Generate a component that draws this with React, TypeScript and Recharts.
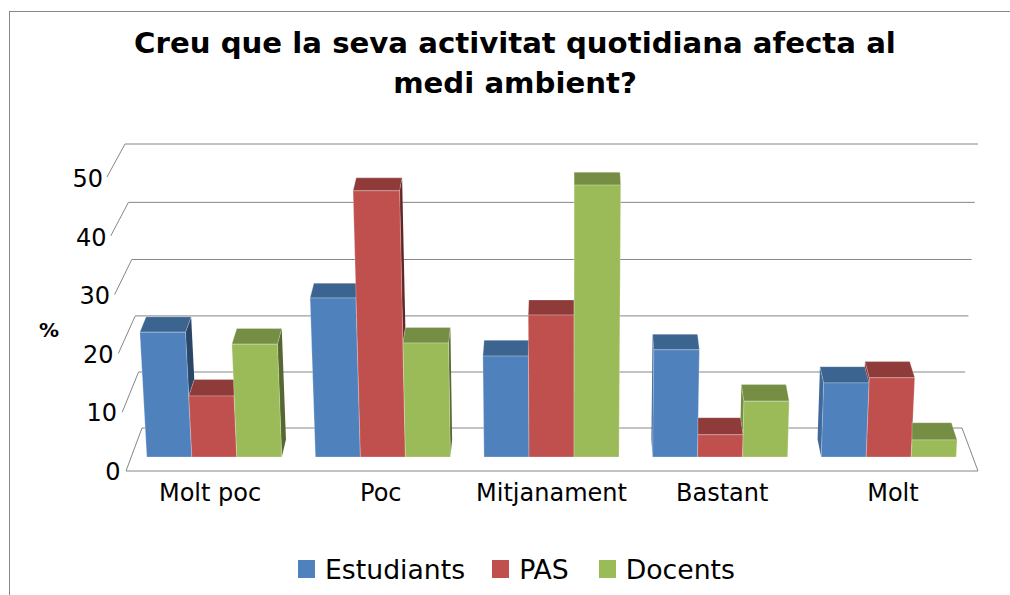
import { Bar, BarChart, CartesianGrid, Legend, XAxis, YAxis } from "recharts"

const categories = ["Molt poc", "Poc", "Mitjanament", "Bastant", "Molt"]
const estudiants = [21.9, 27.9, 17.7, 18.8, 13]
const pas = [10.7, 46.7, 24.9, 3.9, 13.9]
const docents = [19.8, 20, 47.7, 9.8, 3]
const seriesNames = ["Estudiants", "PAS", "Docents"]
const yTicks = [0, 10, 20, 30, 40, 50]

const seriesValues = [estudiants, pas, docents]
const data = categories.map((name, i) => ({
  name,
  Estudiants: estudiants[i],
  PAS: pas[i],
  Docents: docents[i],
}))

const font = "'DejaVu Sans', sans-serif"
const lineColor = "#868686"
const base = 457
const plotHeight = 285
const vanishX = 570

const colors = [
  { front: "#4F81BD", top: "#3C6491", left: "#3F6A9B", right: "#2A4767" },
  { front: "#C0504D", top: "#8F3B39", left: "#8F3B39", right: "#632625" },
  { front: "#9BBB59", top: "#758E44", left: "#758E44", right: "#566832" },
]

// fake perspective: bars fan out a little with height, top face leans to the middle
const fan = (x: number, h: number) => x + (x - vanishX) * 0.000132 * h
const depthY = (h: number) => 17.5 - 0.017 * h
const depthX = (x: number) => (vanishX - x) * 0.0145

function Bar3D(props: any) {
  const { x, y, width, height, index, s } = props
  const c = colors[s]
  const h = height
  const perUnit = h / seriesValues[s][index]
  const hPrev = s > 0 ? seriesValues[s - 1][index] * perUnit : 0
  const hNext = s < 2 ? seriesValues[s + 1][index] * perUnit : 0
  const top = y
  const bottom = y + h

  const l = fan(x, h)
  const r = fan(x + width, h)
  let backL = l + depthX(l)
  const backR = r + depthX(r)
  const backY = top - depthY(h)
  if (hPrev > h && backL < l) backL = l

  const pts = (list: number[][]) => list.map((p) => p.join(",")).join(" ")

  // side face only where it sticks out above the neighbour
  const side = (edge: number, lo: number) => {
    const fLo = fan(edge, lo)
    const fHi = fan(edge, h)
    return pts([
      [fLo, bottom - lo],
      [fHi, top],
      [fHi + depthX(fHi), backY],
      [fLo + depthX(fLo), bottom - lo - depthY(lo)],
    ])
  }

  return (
    <g>
      {x + width < vanishX && hNext < h && (
        <polygon points={side(x + width, hNext)} fill={c.right} />
      )}
      {x > vanishX && hPrev < h && (
        <polygon points={side(x, hPrev)} fill={c.left} />
      )}
      <polygon
        points={pts([[l, top], [r, top], [backR, backY], [backL, backY]])}
        fill={c.top}
        stroke="rgba(255,255,255,0.25)"
      />
      <polygon
        points={pts([[fan(x, 0), bottom], [fan(x + width, 0), bottom], [r, top], [l, top]])}
        fill={c.front}
        stroke="rgba(255,255,255,0.25)"
      />
    </g>
  )
}

function WallLine(props: any) {
  const t = (base - props.y1) / plotHeight
  const y = 428 - t * 280 - 4 * t ** 4
  const left = 142 - t * 17
  const right = 962 + t * 16
  const frontX = 126 - t * 19
  const frontY = 471 - t * 294
  return (
    <g stroke={lineColor} strokeWidth={1} fill="none">
      <line x1={left} y1={y} x2={right} y2={y} />
      <line x1={left} y1={y} x2={frontX} y2={frontY} />
      {t === 0 && <line x1={126} y1={471} x2={978} y2={471} />}
      {t === 0 && <line x1={962} y1={428} x2={978} y2={471} />}
    </g>
  )
}

function YTick(props: any) {
  const t = props.payload.value / 50
  return (
    <text
      x={120.5 - t * 17.5}
      y={472 - t * 293}
      textAnchor="end"
      dominantBaseline="central"
      fontFamily={font}
      fontSize={24}
      fill="#000"
    >
      {props.payload.value}
    </text>
  )
}

function XTick(props: any) {
  return (
    <text
      x={552 + (props.x - 552) * 1.0125}
      y={493}
      textAnchor="middle"
      dominantBaseline="central"
      fontFamily={font}
      fontSize={24}
      fill="#000"
    >
      {props.payload.value}
    </text>
  )
}

function LegendRow(props: any) {
  return (
    <div style={{ display: "flex", alignItems: "center", height: 32, fontFamily: font, fontSize: 26.7, color: "#000" }}>
      {props.payload.map((item: any, i: number) => (
        <div key={item.value} style={{ display: "flex", alignItems: "center", marginRight: i === 0 ? 27 : 30 }}>
          <span style={{ width: 17, height: 18, background: item.color, marginRight: 10 }} />
          {item.value}
        </div>
      ))}
    </div>
  )
}

export default function App() {
  return (
    <div style={{ position: "absolute", left: 0, top: 0, width: 1010, height: 595, overflow: "hidden", background: "#fff" }}>
      <BarChart
        width={1010}
        height={595}
        data={data}
        margin={{ top: 172, right: 37, bottom: 105, left: 129 }}
        barGap={0}
        barCategoryGap={16.8}
      >
        <rect x={9.5} y={11.5} width={1100} height={700} fill="none" stroke={lineColor} />
        <CartesianGrid vertical={false} horizontal={(p: any) => <WallLine {...p} />} />
        <XAxis dataKey="name" height={1} axisLine={false} tickLine={false} interval={0} tick={<XTick />} />
        <YAxis
          width={1}
          domain={[0, 50]}
          ticks={yTicks}
          interval={0}
          axisLine={false}
          tickLine={false}
          tick={<YTick />}
        />
        {seriesNames.map((name, s) => (
          <Bar
            key={name}
            dataKey={name}
            fill={colors[s].front}
            isAnimationActive={false}
            shape={(p: any) => <Bar3D {...p} s={s} />}
          />
        ))}
        <text x={515} y={43} textAnchor="middle" dominantBaseline="central" fontFamily={font} fontWeight="bold" fontSize={29.2} fill="#000">
          Creu que la seva activitat quotidiana afecta al
        </text>
        <text x={515} y={83} textAnchor="middle" dominantBaseline="central" fontFamily={font} fontWeight="bold" fontSize={29.2} fill="#000">
          medi ambient?
        </text>
        <text x={49} y={330} textAnchor="middle" dominantBaseline="central" fontFamily={font} fontWeight="bold" fontSize={20} fill="#000">
          %
        </text>
        <Legend
          itemSorter={null}
          content={<LegendRow />}
          wrapperStyle={{ position: "absolute", left: 298, top: 553, width: "auto", bottom: "auto" }}
        />
      </BarChart>
    </div>
  )
}
